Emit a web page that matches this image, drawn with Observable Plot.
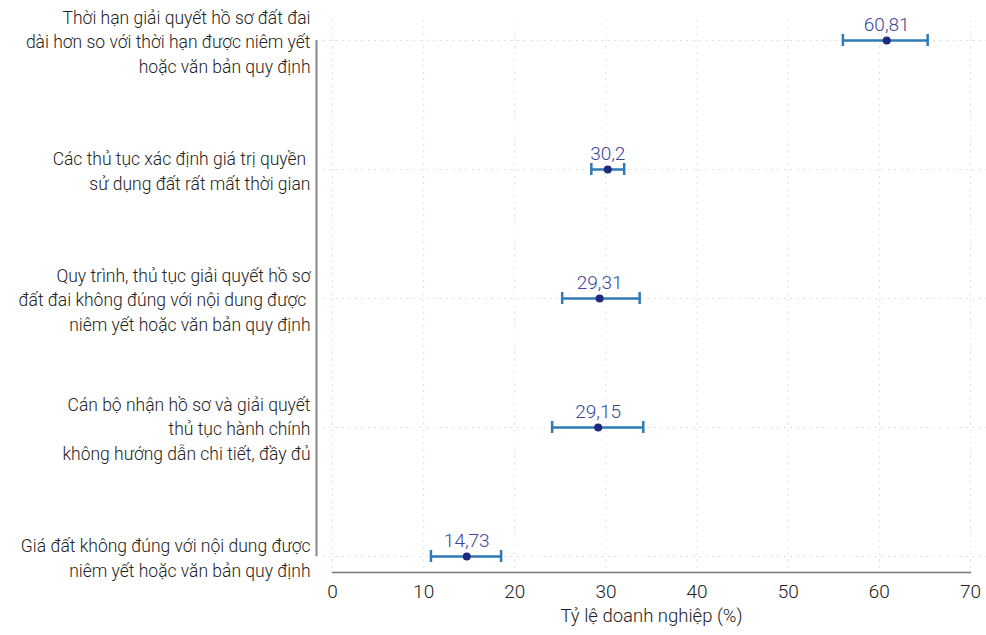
<!DOCTYPE html>
<html><head><meta charset="utf-8">
<script src="https://cdn.jsdelivr.net/npm/d3@7"></script>
<script src="https://cdn.jsdelivr.net/npm/@observablehq/plot@0.6"></script>
<style>
body{margin:0;background:#fff;}
#chart svg{font-family:"Roboto",sans-serif;}
</style></head>
<body><div id="chart"></div>
<script>
const categories = [
  "Thời hạn giải quyết hồ sơ đất đai\ndài hơn so với thời hạn được niêm yết\nhoặc văn bản quy định",
  "Các thủ tục xác định giá trị quyền\u00a0\nsử dụng đất rất mất thời gian",
  "Quy trình, thủ tục giải quyết hồ sơ\nđất đai không đúng với nội dung được\u00a0\nniêm yết hoặc văn bản quy định",
  "Cán bộ nhận hồ sơ và giải quyết\nthủ tục hành chính\nkhông hướng dẫn chi tiết, đầy đủ",
  "Giá đất không đúng với nội dung được\nniêm yết hoặc văn bản quy định"
];
const values = [60.81, 30.2, 29.31, 29.15, 14.73];
const lows = [56.0, 28.4, 25.2, 24.1, 10.8];
const highs = [65.3, 32.0, 33.7, 34.1, 18.5];
const labels = ["60,81", "30,2", "29,31", "29,15", "14,73"];
const xTicks = [0, 10, 20, 30, 40, 50, 60, 70];
const xLabel = "Tỷ lệ doanh nghiệp (%)";

const data = categories.map((c, i) => ({cat: c, v: values[i], lo: lows[i], hi: highs[i], lab: labels[i]}));
const errColor = "#2e7ab6";

const chart = Plot.plot({
  width: 986,
  height: 635,
  marginLeft: 332,
  marginRight: 16,
  marginTop: 20,
  marginBottom: 63,
  style: {fontFamily: '"Roboto",sans-serif', fontSize: "17px", color: "#222"},
  x: {domain: [0, 70], ticks: xTicks, label: null},
  y: {type: "point", domain: categories, range: [39, 557], padding: 0, axis: null},
  marks: [
    Plot.gridX(xTicks, {stroke: "#bbb", strokeOpacity: 0.6, strokeDasharray: "1.5,5"}),
    Plot.ruleY(data, {y: "cat", stroke: "#bbb", strokeOpacity: 0.6, strokeDasharray: "1.5,5", insetLeft: -16, insetRight: -16}),
    Plot.frame({anchor: "bottom", stroke: "#777", strokeWidth: 1.3}),
    Plot.ruleX([0], {y1: () => categories[0], y2: () => categories[categories.length - 1], dx: -16, stroke: "#888", strokeWidth: 2}),
    Plot.axisX({ticks: xTicks, tickSize: 0, tickPadding: 12, fontSize: 19, fontWeight: 300, fill: "#222", label: null}),
    Plot.text([xLabel], {frameAnchor: "bottom", dy: 49, fontSize: 18.5, fontWeight: 300, fill: "#222"}),
    Plot.text(data, {y: "cat", text: "cat", frameAnchor: "left", dx: -22, textAnchor: "end", fontSize: 17.5, fontWeight: 300, lineHeight: 1.42, fill: "#222"}),
    Plot.ruleY(data, {y: "cat", x1: "lo", x2: "hi", stroke: errColor, strokeWidth: 2.5}),
    Plot.ruleX(data, {x: "lo", y1: "cat", y2: "cat", insetTop: -6, insetBottom: -6, stroke: errColor, strokeWidth: 2.5}),
    Plot.ruleX(data, {x: "hi", y1: "cat", y2: "cat", insetTop: -6, insetBottom: -6, stroke: errColor, strokeWidth: 2.5}),
    Plot.dot(data, {y: "cat", x: "v", r: 4, fill: "#1f2a7e", stroke: "none"}),
    Plot.text(data, {y: "cat", x: "v", text: "lab", dy: -16, fontSize: 19, fontWeight: 300, fill: "#3a449e"})
  ]
});
document.getElementById("chart").appendChild(chart);
</script></body></html>
